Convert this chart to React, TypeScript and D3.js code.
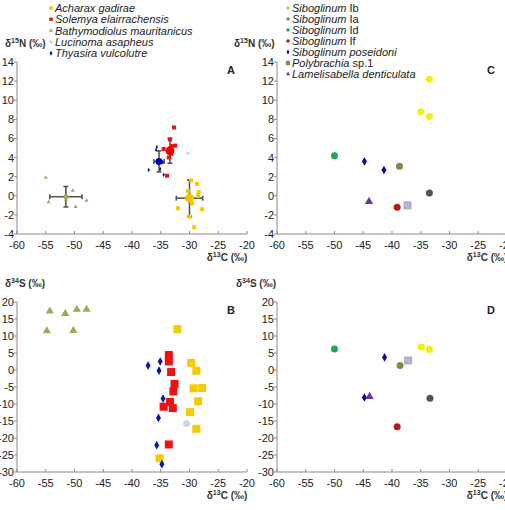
import React from 'react';
import * as d3 from 'd3';

type Pt = [number, number];
type Series = {
  name: string;
  italic: string;
  plain?: string;
  shape: 'circle' | 'square' | 'triangle' | 'diamond';
  color: string;
  legendColor?: string;
  cn: Pt[];
  cs: Pt[];
  size: number;
};

// bivalves (panels A, B)
const acharaxCN: Pt[] = [[-29.7, 1.6], [-28.7, 1.25], [-28.4, 0.4], [-28.5, 0.0], [-32.0, -1.3], [-27.8, -1.4], [-30.0, -2.2], [-29.2, -3.3], [-30.3, 0.5], [-29.5, -0.8]];
const acharaxCS: Pt[] = [[-32.1, 12.0], [-29.7, 2.1], [-28.8, -0.2], [-29.3, -5.4], [-27.8, -5.3], [-28.5, -9.2], [-29.9, -12.4], [-28.8, -17.3], [-35.2, -26.0]];
const solemyaCN: Pt[] = [[-32.7, 7.15], [-33.4, 5.9], [-32.5, 5.25], [-34.5, 4.9], [-33.6, 4.0], [-33.9, 2.1], [-33.0, 5.2], [-33.2, 4.4]];
const solemyaCS: Pt[] = [[-33.6, 4.4], [-33.6, 2.5], [-33.2, -0.6], [-32.6, -4.1], [-32.8, -6.3], [-33.4, -9.4], [-34.5, -10.8], [-32.9, -11.2], [-33.6, -21.9]];
const bathyCN: Pt[] = [[-55.0, 1.9], [-54.5, -0.66], [-50.3, 0.55], [-49.8, -1.15], [-47.9, -0.5], [-51.5, -0.4]];
const bathyCS: Pt[] = [[-54.3, 17.3], [-51.6, 16.6], [-49.6, 17.8], [-47.9, 17.8], [-54.8, 11.5], [-50.2, 11.6]];
const lucinomaCN: Pt[] = [[-30.3, 4.45]];
const lucinomaCS: Pt[] = [[-30.5, -15.8]];
const thyasiraCN: Pt[] = [[-35.7, 5.1], [-35.8, 4.8], [-37.1, 2.7], [-34.7, 3.5], [-35.1, 2.8], [-34.5, 2.2], [-35.6, 3.5]];
const thyasiraCS: Pt[] = [[-37.2, 1.3], [-35.1, 2.5], [-35.3, -0.2], [-34.6, -8.4], [-35.4, -14.1], [-35.7, -22.1], [-34.8, -27.7]];

// mean +- sd for panel A: [x, y, sdx, sdy]
const bivalveMeans: { color: string; r: number; m: [number, number, number, number] }[] = [
  { color: '#f2c400', r: 4.5, m: [-30.0, -0.25, 2.3, 1.9] },
  { color: '#ee0000', r: 4.5, m: [-33.4, 4.7, 0.4, 1.3] },
  { color: '#0000aa', r: 3.5, m: [-35.3, 3.6, 0.9, 1.1] },
  { color: '#9aaa50', r: 2.5, m: [-51.5, -0.1, 2.8, 1.07] },
];

// tubeworms (panels C, D)
const sibIbCN: Pt[] = [[-33.5, 12.2], [-35.0, 8.8], [-33.5, 8.3]];
const sibIbCS: Pt[] = [[-34.9, 6.8], [-33.5, 6.0]];
const sibIaCN: Pt[] = [[-38.7, 3.1]];
const sibIaCS: Pt[] = [[-38.6, 1.3]];
const sibIdCN: Pt[] = [[-50.0, 4.2]];
const sibIdCS: Pt[] = [[-50.0, 6.2]];
const sibIfCN: Pt[] = [[-39.1, -1.2]];
const sibIfCS: Pt[] = [[-39.1, -16.7]];
const poseidoniCN: Pt[] = [[-44.8, 3.6], [-41.4, 2.7]];
const poseidoniCS: Pt[] = [[-41.3, 3.7], [-44.8, -8.1]];
const polyCN: Pt[] = [[-37.3, -1.0]];
const polyCS: Pt[] = [[-37.2, 2.8]];
const lameCN: Pt[] = [[-44.0, -0.6]];
const lameCS: Pt[] = [[-43.9, -7.8]];
const grayCN: Pt[] = [[-33.5, 0.3]];
const grayCS: Pt[] = [[-33.4, -8.3]];

const bivalves: Series[] = [
  { name: 'Acharax gadirae', italic: 'Acharax gadirae', shape: 'square', color: '#f8c800', cn: acharaxCN, cs: acharaxCS, size: 8 },
  { name: 'Solemya elairrachensis', italic: 'Solemya elairrachensis', shape: 'square', color: '#ee1111', cn: solemyaCN, cs: solemyaCS, size: 8 },
  { name: 'Bathymodiolus mauritanicus', italic: 'Bathymodiolus mauritanicus', shape: 'triangle', color: '#9aac58', cn: bathyCN, cs: bathyCS, size: 7 },
  { name: 'Lucinoma asapheus', italic: 'Lucinoma asapheus', shape: 'circle', color: '#c8d8ec', cn: lucinomaCN, cs: lucinomaCS, size: 7 },
  { name: 'Thyasira vulcolutre', italic: 'Thyasira vulcolutre', shape: 'diamond', color: '#0a1aa8', cn: thyasiraCN, cs: thyasiraCS, size: 6 },
];

const worms: Series[] = [
  { name: 'Ib', italic: 'Siboglinum', plain: ' Ib', shape: 'circle', color: '#f4f000', legendColor: '#b8d040', cn: sibIbCN, cs: sibIbCS, size: 7 },
  { name: 'Ia', italic: 'Siboglinum', plain: ' Ia', shape: 'circle', color: '#7e8a48', cn: sibIaCN, cs: sibIaCS, size: 7 },
  { name: 'Id', italic: 'Siboglinum', plain: ' Id', shape: 'circle', color: '#1aa85a', cn: sibIdCN, cs: sibIdCS, size: 7 },
  { name: 'If', italic: 'Siboglinum', plain: ' If', shape: 'circle', color: '#c01818', cn: sibIfCN, cs: sibIfCS, size: 7 },
  { name: 'poseidoni', italic: 'Siboglinum poseidoni', shape: 'diamond', color: '#0a0aa0', cn: poseidoniCN, cs: poseidoniCS, size: 6 },
  { name: 'Polybrachia', italic: 'Polybrachia', plain: ' sp.1', shape: 'square', color: '#b8b4d4', legendColor: '#888888', cn: polyCN, cs: polyCS, size: 7 },
  { name: 'Lamelisabella', italic: 'Lamelisabella denticulata', shape: 'triangle', color: '#6a3a9a', cn: lameCN, cs: lameCS, size: 7 },
  { name: '', italic: '', shape: 'circle', color: '#555555', cn: grayCN, cs: grayCS, size: 7 },
];

const xTicks = [-60, -55, -50, -45, -40, -35, -30, -25, -20];
const nTicks = [-4, -2, 0, 2, 4, 6, 8, 10, 12, 14];
const sTicks = [-30, -25, -20, -15, -10, -5, 0, 5, 10, 15, 20];

const FONT = 'Liberation Sans, Arial, sans-serif';
const AXIS = '#8a8a8a';

function symbolPath(shape: Series['shape'], size: number) {
  const t = {
    circle: d3.symbolCircle,
    square: d3.symbolSquare,
    triangle: d3.symbolTriangle,
    diamond: d3.symbolDiamond,
  }[shape];
  const area = shape === 'circle' ? Math.PI * (size / 2) ** 2 : shape === 'diamond' ? size * size * 0.6 : size * size * (shape === 'triangle' ? 0.6 : 1);
  return d3.symbol(t, area)() as string;
}

function Panel(props: {
  x0: number; x1: number; yTop: number; yBot: number;
  yDomain: [number, number]; yTicks: number[];
  series: Series[]; which: 'cn' | 'cs';
  letter: string; yTitle: 'N' | 'S'; titleX: number;
  means?: typeof bivalveMeans;
  scale?: number;
}) {
  const x = d3.scaleLinear().domain([-60, -20]).range([props.x0, props.x1]);
  const y = d3.scaleLinear().domain(props.yDomain).range([props.yBot, props.yTop]);
  const k = props.scale ?? 1;
  return (
    <g fontFamily={FONT}>
      <line x1={props.x0} x2={props.x0} y1={props.yTop} y2={props.yBot} stroke={AXIS} strokeWidth={1} />
      <line x1={props.x0} x2={props.x1} y1={props.yBot} y2={props.yBot} stroke={AXIS} strokeWidth={1} />
      {props.yTicks.map((t) => (
        <g key={'y' + t}>
          <line x1={props.x0 - 3} x2={props.x0} y1={y(t)} y2={y(t)} stroke={AXIS} />
          <text x={props.x0 - 3} y={y(t) + 4} textAnchor="end" fontSize={11} fill="#222">{t}</text>
        </g>
      ))}
      {xTicks.map((t) => (
        <g key={'x' + t}>
          <line x1={x(t)} x2={x(t)} y1={props.yBot - 3} y2={props.yBot} stroke={AXIS} />
          <text x={x(t)} y={props.yBot + 15} textAnchor="middle" fontSize={11} fill="#222">{t}</text>
        </g>
      ))}
      <text x={x(-27)} y={props.yBot + 27} fontSize={10} fontWeight="bold" fill="#333">
        δ<tspan fontSize={7} dy={-4}>13</tspan><tspan dy={4}>C (‰)</tspan>
      </text>
      <text x={props.titleX} y={props.yTop - 15} fontSize={10} fontWeight="bold" fill="#333" textAnchor="start">
        δ<tspan fontSize={7} dy={-4}>{props.yTitle === 'N' ? '15' : '34'}</tspan><tspan dy={4}>{props.yTitle} (‰)</tspan>
      </text>
      <text x={x(-22.8)} y={props.yTop + 12} fontSize={11} fontWeight="bold" fill="#222" textAnchor="middle">{props.letter}</text>
      {props.means && props.means.map((m, i) => {
        const [mx, my, sx, sy] = m.m;
        const c = 2.5;
        return (
          <g key={'m' + i} stroke="#555" strokeWidth={1.6}>
            <line x1={x(mx - sx)} x2={x(mx + sx)} y1={y(my)} y2={y(my)} />
            <line x1={x(mx)} x2={x(mx)} y1={y(my - sy)} y2={y(my + sy)} />
            <line x1={x(mx - sx)} x2={x(mx - sx)} y1={y(my) - c} y2={y(my) + c} />
            <line x1={x(mx + sx)} x2={x(mx + sx)} y1={y(my) - c} y2={y(my) + c} />
            <line x1={x(mx) - c} x2={x(mx) + c} y1={y(my - sy)} y2={y(my - sy)} />
            <line x1={x(mx) - c} x2={x(mx) + c} y1={y(my + sy)} y2={y(my + sy)} />
          </g>
        );
      })}
      {props.series.map((s, si) =>
        s[props.which].map((p, i) => (
          <path key={si + '-' + i} d={symbolPath(s.shape, s.size * k)} transform={`translate(${x(p[0])},${y(p[1])})`}
            fill={s.color} stroke={s.name === 'Polybrachia' ? '#9a98b8' : 'none'} strokeWidth={0.8} />
        ))
      )}
      {props.means && props.means.map((m, i) => (
        <circle key={'mc' + i} cx={x(m.m[0])} cy={y(m.m[1])} r={m.r} fill={m.color} />
      ))}
    </g>
  );
}

function Legend(props: { series: Series[]; x: number; y0: number; dy: number }) {
  const items = props.series.filter((s) => s.italic);
  return (
    <g fontFamily={FONT} fontSize={11} fill="#222">
      {items.map((s, i) => (
        <g key={s.name} transform={`translate(${props.x},${props.y0 + i * props.dy})`}>
          <path d={symbolPath(s.shape, 3.5)} fill={s.legendColor ?? s.color}
            stroke={s.name === 'Polybrachia' ? '#666' : 'none'} strokeWidth={0.8} />
          <text x={4} y={4}>
            <tspan fontStyle="italic">{s.italic}</tspan>
            {s.plain && <tspan>{s.plain}</tspan>}
          </text>
        </g>
      ))}
    </g>
  );
}

export default function App() {
  return (
    <svg width={505} height={510} style={{ position: 'absolute', left: 0, top: 0 }}>
      <rect width={505} height={510} fill="#fff" />
      <Legend series={bivalves} x={51} y0={8} dy={11.3} />
      <Legend series={worms} x={288} y0={8} dy={11} />
      <Panel x0={17} x1={247} yTop={62} yBot={234} yDomain={[-4, 14]} yTicks={nTicks}
        series={bivalves} which="cn" letter="A" yTitle="N" titleX={5} means={bivalveMeans} scale={0.5} />
      <Panel x0={277} x1={507} yTop={62} yBot={234} yDomain={[-4, 14]} yTicks={nTicks}
        series={worms} which="cn" letter="C" yTitle="N" titleX={234} />
      <Panel x0={17} x1={247} yTop={302} yBot={472} yDomain={[-30, 20]} yTicks={sTicks}
        series={bivalves} which="cs" letter="B" yTitle="S" titleX={5} />
      <Panel x0={277} x1={507} yTop={302} yBot={472} yDomain={[-30, 20]} yTicks={sTicks}
        series={worms} which="cs" letter="D" yTitle="S" titleX={236} />
    </svg>
  );
}
